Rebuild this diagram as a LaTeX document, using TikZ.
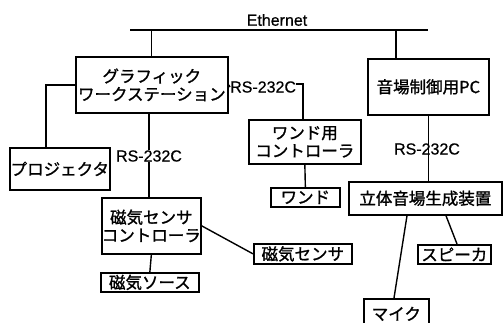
\documentclass[tikz,border=0pt]{standalone}
\usepackage{fontspec}
\setmainfont{Liberation Sans}[FakeBold=0.6]
\newfontfamily\jpfont{Noto Sans CJK JP}[FakeBold=1.2]
\usetikzlibrary{calc}
\tikzset{
  box/.style={draw, line width=1.7pt, inner sep=0pt, align=center, anchor=north west,
    font=\jpfont\fontsize{16.5}{18}\selectfont},
  conn/.style={line width=1.4pt},
  bus/.style={line width=1.1pt},
  lbl/.style={inner sep=0pt, font=\fontsize{16}{18}\selectfont}
}
\begin{document}
\begin{tikzpicture}[x=1pt,y=-1pt]
\useasboundingbox (0,0) rectangle (503,322);
\clip (0,0) rectangle (503,322);
% nodes
\node[box, minimum width=152pt, minimum height=56pt] (gw) at (75,56) {グラフィック\\ワークステーション};
\node[box, minimum width=121pt, minimum height=56pt] (pc) at (367,58) {音場制御用PC};
\node[box, minimum width=112pt, minimum height=44pt] (wc) at (248,119) {ワンド用\\コントローラ};
\node[box, minimum width=69pt, minimum height=19pt] (wand) at (270,187) {ワンド};
\node[box, minimum width=153pt, minimum height=33pt] (sg) at (348,181) {立体音場生成装置};
\node[box, minimum width=73pt, minimum height=19pt] (spk) at (417,244) {スピーカ};
\node[box, minimum width=65pt, minimum height=30pt] (mic) at (363,298) {マイク};
\node[box, minimum width=98pt, minimum height=20pt] (ms) at (253,243) {磁気センサ};
\node[box, minimum width=97pt, minimum height=56pt] (msc) at (101,197) {磁気センサ\\コントローラ};
\node[box, minimum width=98pt, minimum height=19pt] (src) at (100,272) {磁気ソース};
\node[box, minimum width=100pt, minimum height=42pt] (proj) at (9,147) {プロジェクタ};
% labels
\node[lbl] (eth) at (277,20) {Ethernet};
\node[lbl, anchor=west] (rs1) at (230,87) {RS-232C};
\node[lbl] (rs2) at (149,156) {RS-232C};
% coordinates
\coordinate (eL) at (130,30);
\coordinate (eR) at (428,30);
\coordinate (pcdrop) at (396,30);
\coordinate (pj) at (46,147);
\coordinate (hk) at (303,84);
% connectors
\draw[bus] (eL) -- (eR);
\draw[bus] (gw.north) -- (gw.north |- eL);
\draw[bus] (pcdrop) -- (pcdrop |- pc.north);
\draw[conn] (gw.west) -| (pj);
\draw[conn] (gw.east) -- (rs1.west);
\draw[conn] (rs1.east |- hk) -- (hk) -- (hk |- wc.north);
\draw[conn] (gw.south -| rs2) -- (rs2.north);
\draw[conn] (rs2.south) -- (msc.north -| rs2);
\draw[conn] (pc.south) -- (pc.south |- sg.north);
\node[lbl] (rs3) at (427,149) {RS-232C};
\draw[conn] (wc.south) -- (wand.north);
\draw[conn] (msc.east) -- (ms.west);
\draw[conn] (msc.south) -- (src.north);
\draw[conn] ($(sg.south west)+(98,0)$) -- ($(spk.north west)+(40,0)$);
\draw[conn] ($(sg.south west)+(59,0)$) -- ($(mic.north west)+(31,0)$);
\end{tikzpicture}
\end{document}
